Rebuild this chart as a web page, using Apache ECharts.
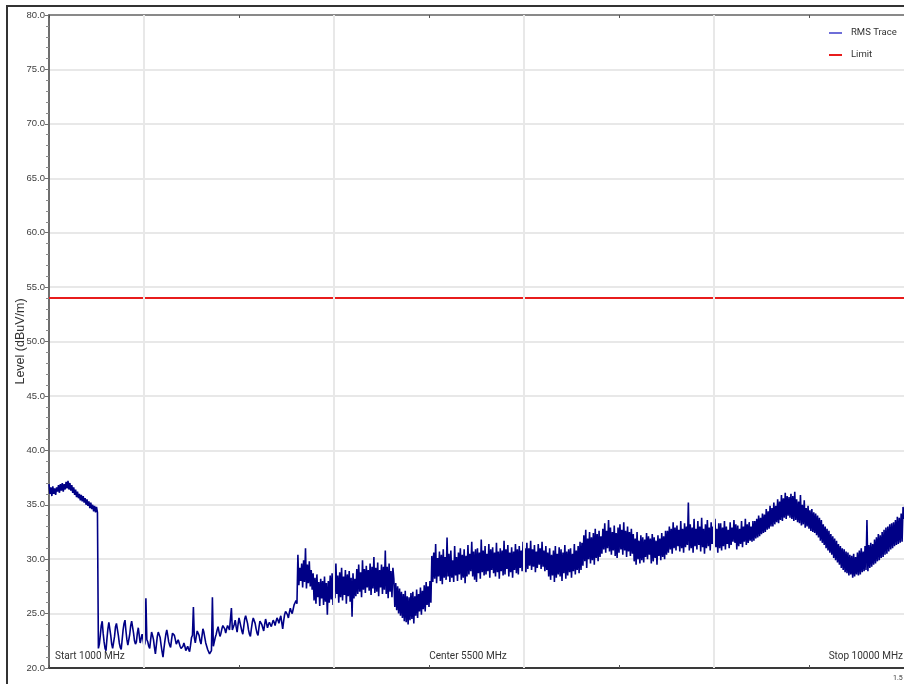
<!DOCTYPE html>
<html>
<head>
<meta charset="utf-8">
<style>
  html, body { margin: 0; padding: 0; background: #fff; }
  #chart { width: 904px; height: 684px; }
</style>
<script src="https://cdn.jsdelivr.net/npm/echarts@6/dist/echarts.min.js"></script>
</head>
<body>
<div id="chart"></div>
<script>
// Sweep settings (MHz)
const startMHz = 1000;
const stopMHz = 10000;
const stepMHz = 10;

// RMS trace level, one reading per sweep step (dBuV/m)
const rmsLevel = [
  // 1000 - 1510 MHz
  36.9, 36.0, 36.6, 35.8, 36.7, 36.0, 36.5, 35.9, 36.6, 36.2,
  36.8, 36.1, 36.9, 36.3, 37.0, 36.2, 36.9, 36.4, 37.1, 36.5,
  37.2, 36.4, 37.0, 36.3, 36.8, 36.1, 36.6, 35.9, 36.4, 35.7,
  36.2, 35.6, 36.0, 35.4, 35.9, 35.3, 35.8, 35.2, 35.6, 35.0,
  35.5, 34.9, 35.3, 34.7, 35.2, 34.6, 35.0, 34.4, 34.9, 34.3,
  34.8, 34.3,
  // 1520 - 1950 MHz
  21.8, 22.2, 23.0, 23.9, 24.3, 23.2, 22.4, 21.8, 21.6, 22.7,
  23.6, 24.2, 24.1, 23.0, 22.2, 21.8, 21.9, 22.9, 23.8, 24.1,
  24.0, 23.0, 22.3, 21.9, 21.7, 22.6, 23.5, 24.1, 24.4, 23.4,
  22.6, 22.1, 22.0, 23.1, 23.9, 24.3, 24.2, 23.2, 22.5, 22.2,
  22.4, 23.2, 23.7, 23.0,
  // 1960 - 2450 MHz
  22.3, 22.7, 23.1, 22.6, 22.0, 22.3, 26.4, 22.6, 22.4, 22.0,
  21.8, 22.6, 23.3, 23.0, 22.6, 21.9, 21.3, 22.1, 22.9, 23.3,
  23.4, 22.8, 22.1, 21.5, 21.0, 21.8, 22.5, 23.1, 23.5, 23.0,
  22.4, 22.1, 21.9, 22.6, 23.2, 23.2, 23.0, 22.6, 22.2, 22.4,
  22.6, 22.3, 22.0, 21.8, 21.7, 22.0, 22.3, 22.0, 21.6, 21.8,
  // 2460 - 2930 MHz
  22.0, 21.7, 21.5, 22.1, 22.8, 23.0, 25.6, 22.8, 22.3, 22.9,
  23.4, 23.3, 23.0, 22.5, 22.2, 22.9, 23.6, 23.3, 22.8, 22.3,
  22.0, 21.7, 21.5, 21.3, 21.2, 21.6, 26.5, 22.0, 22.4, 22.8,
  23.1, 23.5, 23.8, 23.3, 22.9, 23.2, 23.6, 23.9, 24.0, 23.6,
  23.2, 23.6, 23.9, 23.7, 23.5, 23.4, 25.5, 23.5,
  // 2940 - 3610 MHz
  23.6, 24.0, 24.4, 23.8, 23.3, 24.0, 24.6, 24.2, 23.8, 23.4,
  23.1, 23.8, 24.5, 24.8, 24.9, 24.1, 23.5, 23.1, 22.9, 23.6,
  24.2, 24.6, 24.7, 24.1, 23.6, 23.2, 23.0, 23.7, 24.3, 24.2,
  24.0, 23.7, 23.4, 24.0, 24.5, 24.1, 23.7, 24.0, 24.2, 24.0,
  23.8, 24.1, 24.4, 24.2, 23.9, 24.3, 24.6, 24.4, 24.1, 24.5,
  24.8, 24.2, 23.6, 24.3, 24.9, 25.2, 25.3, 24.9, 24.6, 25.1,
  25.5, 25.2, 25.0, 25.4, 25.8, 26.0, 26.2, 25.9,
  // 3620 - 3770 MHz
  30.4, 27.6, 29.2, 28.0, 29.6, 27.4, 29.9, 27.9, 31.0, 27.3,
  29.5, 27.8, 29.8, 27.5, 29.0, 27.2,
  // 3780 - 3960 MHz
  28.7, 26.2, 28.3, 25.9, 28.6, 26.5, 27.9, 25.7, 28.2, 26.4,
  28.0, 25.8, 28.4, 26.1, 27.8, 24.9, 28.0, 26.0, 28.5,
  // 3970 - 4240 MHz
  26.3, 28.7, 25.8, 28.9, 26.4, 29.6, 26.8, 28.5, 26.0, 28.8,
  26.5, 29.2, 26.2, 28.4, 26.7, 29.0, 25.9, 28.6, 26.6, 28.9,
  26.1, 28.3, 24.7, 28.7, 26.4, 28.2, 26.6, 29.1,
  // 4250 - 4620 MHz
  26.8, 29.5, 27.0, 28.8, 26.5, 29.9, 27.2, 29.1, 26.9, 29.4,
  27.4, 29.0, 27.1, 29.6, 26.7, 29.3, 27.3, 30.2, 26.9, 29.2,
  27.0, 29.7, 26.6, 29.0, 27.4, 29.5, 26.8, 29.3, 27.2, 30.8,
  26.8, 29.3, 26.4, 29.6, 27.0, 28.9, 26.5, 29.2,
  // 4630 - 5020 MHz
  28.2, 25.6, 27.8, 25.3, 27.5, 25.0, 27.3, 24.8, 27.0, 24.6,
  26.8, 24.3, 27.1, 24.2, 26.6, 24.0, 26.5, 24.4, 26.9, 24.5,
  27.0, 24.1, 26.6, 24.8, 27.2, 24.6, 26.8, 25.2, 27.4, 24.9,
  27.1, 25.4, 27.6, 25.2, 27.9, 25.8, 27.5, 25.6, 28.0, 26.0,
  // 5030 - 5400 MHz
  30.3, 27.9, 30.6, 28.2, 31.4, 27.8, 30.1, 28.4, 30.7, 28.0,
  30.4, 27.7, 30.9, 28.3, 30.2, 28.1, 32.0, 28.4, 30.5, 27.9,
  30.8, 28.3, 29.9, 27.9, 31.2, 28.5, 30.2, 28.0, 30.6, 28.6,
  31.0, 28.1, 30.4, 28.3, 30.9, 27.8, 30.3, 28.4,
  // 5410 - 6020 MHz
  31.3, 28.6, 30.5, 28.9, 31.6, 28.4, 30.7, 28.1, 30.9, 27.9,
  31.0, 28.7, 30.6, 28.2, 31.8, 28.8, 30.8, 28.5, 31.2, 28.6,
  30.5, 28.9, 31.4, 28.3, 30.9, 29.0, 31.1, 28.7, 30.6, 28.4,
  31.5, 28.8, 30.7, 28.2, 31.0, 28.9, 30.8, 28.5, 31.7, 28.6,
  30.9, 29.1, 31.3, 28.4, 30.6, 28.8, 31.1, 28.3, 30.7, 29.0,
  31.4, 28.7, 30.9, 28.6, 31.2, 29.2, 30.8, 28.9, 31.6, 29.0,
  31.0, 28.8,
  // 6030 - 6240 MHz
  31.5, 29.1, 31.0, 29.4, 31.7, 29.0, 30.9, 29.3, 31.3, 28.8,
  30.7, 29.2, 31.4, 29.5, 31.0, 29.1, 31.6, 29.3, 30.8, 28.9,
  31.2, 29.0,
  // 6250 - 6610 MHz
  30.6, 28.4, 31.0, 28.1, 30.4, 28.5, 30.8, 27.9, 31.2, 28.3,
  30.5, 28.6, 31.1, 28.4, 30.9, 28.0, 30.6, 28.7, 31.3, 28.2,
  30.7, 28.5, 30.9, 28.8, 31.0, 28.3, 30.5, 28.9, 31.4, 28.6,
  30.8, 29.0, 31.2, 28.7, 31.6, 29.0, 31.5,
  // 6620 - 6810 MHz
  29.4, 32.2, 29.8, 32.7, 29.2, 31.9, 30.0, 32.5, 29.6, 32.0,
  29.9, 32.4, 29.5, 32.8, 30.1, 32.3, 29.8, 32.6, 30.2, 32.1,
  // 6820 - 7150 MHz
  30.5, 32.8, 30.9, 33.3, 30.6, 32.6, 31.0, 33.6, 30.7, 32.9,
  30.4, 32.5, 30.8, 33.1, 30.3, 32.4, 30.1, 32.9, 30.6, 33.2,
  30.9, 32.7, 30.4, 33.4, 30.8, 32.6, 30.2, 33.0, 30.7, 32.5,
  30.3, 32.8, 30.5, 32.3,
  // 7160 - 7500 MHz
  29.8, 31.9, 29.5, 32.5, 30.0, 31.7, 29.6, 32.2, 29.9, 32.0,
  29.7, 31.8, 30.2, 32.4, 30.0, 32.1, 30.4, 31.9, 29.6, 32.3,
  29.8, 32.0, 30.1, 31.7, 29.5, 32.2, 30.3, 31.9, 29.9, 32.4,
  30.2, 32.1, 30.0, 32.6, 30.4,
  // 7510 - 8060 MHz
  32.6, 30.6, 33.0, 30.9, 32.8, 30.5, 33.4, 31.0, 32.9, 30.8,
  33.1, 31.2, 32.7, 30.7, 33.5, 31.0, 32.8, 30.6, 33.3, 31.1,
  33.0, 31.3, 35.2, 30.8, 33.2, 31.0, 32.9, 30.6, 33.7, 31.2,
  32.8, 30.9, 33.5, 31.3, 33.0, 30.7, 33.8, 31.1, 32.8, 30.5,
  33.2, 31.0, 33.6, 31.2, 32.9, 30.8, 33.4, 31.4, 33.0, 30.9,
  33.7, 31.1, 32.8, 30.6, 33.3, 31.0,
  // 8070 - 8410 MHz
  33.3, 30.8, 32.9, 31.2, 33.5, 30.9, 33.0, 31.4, 32.7, 31.0,
  33.4, 31.3, 32.9, 31.6, 33.6, 31.5, 33.2, 30.9, 33.1, 31.2,
  32.8, 31.4, 33.5, 31.1, 33.0, 31.6, 33.7, 31.3, 33.2, 31.5,
  33.4, 31.7, 33.0, 31.6, 33.5,
  // 8420 - 8810 MHz
  31.7, 33.5, 31.9, 33.7, 32.0, 34.0, 32.1, 33.8, 32.3, 34.2,
  32.4, 34.1, 32.5, 34.6, 32.7, 34.4, 32.8, 34.9, 33.0, 34.7,
  33.0, 35.2, 33.2, 34.9, 33.4, 35.5, 33.3, 35.3, 33.6, 35.9,
  33.5, 35.6, 33.8, 36.1, 33.7, 35.8, 34.0, 35.7, 33.8, 36.0,
  // 8820 - 9060 MHz
  33.7, 35.8, 33.5, 36.2, 33.6, 35.5, 33.4, 35.3, 33.3, 35.9,
  33.1, 35.0, 33.2, 35.4, 32.9, 34.7, 33.0, 34.9, 32.8, 34.5,
  32.6, 34.6, 32.5, 34.3, 32.4,
  // 9070 - 9520 MHz
  34.2, 32.2, 34.0, 32.0, 33.8, 31.7, 33.6, 31.5, 33.2, 31.3,
  33.0, 31.0, 32.8, 30.8, 32.6, 30.6, 32.3, 30.4, 32.1, 30.1,
  31.9, 29.9, 31.7, 29.7, 31.4, 29.5, 31.2, 29.2, 31.0, 29.0,
  30.9, 28.8, 30.7, 28.7, 30.6, 28.5, 30.4, 28.6, 30.3, 28.3,
  30.5, 28.4, 30.2, 28.6, 30.6, 28.5,
  // 9530 - 10000 MHz
  30.8, 28.6, 31.0, 28.8, 30.7, 28.9, 31.2, 29.0, 33.6, 28.9,
  31.3, 29.2, 31.5, 29.3, 31.4, 29.5, 31.8, 29.6, 32.0, 29.8,
  32.3, 29.9, 32.2, 30.1, 32.5, 30.2, 32.7, 30.4, 32.9, 30.5,
  33.0, 30.7, 33.2, 30.9, 33.3, 31.0, 33.4, 31.2, 33.6, 31.3,
  33.9, 31.4, 33.8, 31.5, 34.2, 31.6, 34.8, 33.7
];

// Limit line level (dBuV/m)
const limitLevel = 54;

// Level axis range and step
const levelMin = 20;
const levelMax = 80;
const levelStep = 5;

// Frequencies that carry a vertical grid line
const gridFreqs = [2000, 4000, 6000, 8000];

const traceData = rmsLevel.map((v, i) => [startMHz + i * stepMHz, v]);
const limitData = [[startMHz, limitLevel], [stopMHz, limitLevel]];
const centerMHz = (startMHz + stopMHz) / 2;

const LABEL_FONT = 'Roboto, "Liberation Sans", sans-serif';
const REGULAR = '"Liberation Sans", Arial, sans-serif';

const chart = echarts.init(document.getElementById('chart'), null, { renderer: 'canvas' });

const freqAxisBase = {
  type: 'value',
  min: startMHz,
  max: stopMHz,
  interval: 1000,
  axisLabel: { show: false },
  splitLine: { show: false },
  axisTick: { show: true, inside: true, length: 3, lineStyle: { color: '#555', width: 1 } }
};

chart.setOption({
  animation: false,
  backgroundColor: '#ffffff',
  grid: { left: 49, top: 15, right: 0, bottom: 16, containLabel: false, outerBoundsMode: 'none' },
  legend: {
    orient: 'vertical',
    left: 829,
    top: 26,
    padding: 0,
    itemWidth: 13,
    itemHeight: 2,
    itemGap: 8,
    icon: 'rect',
    textStyle: { fontFamily: LABEL_FONT, fontSize: 9.5, color: '#333', lineHeight: 14, padding: [0, 0, 0, 4] },
    data: [
      { name: 'RMS Trace', itemStyle: { color: '#6e6ed8' } },
      { name: 'Limit', itemStyle: { color: '#e81c1c' } }
    ]
  },
  xAxis: [
    Object.assign({}, freqAxisBase, {
      position: 'bottom',
      axisLine: { show: true, lineStyle: { color: '#3a3a3a', width: 2 } }
    }),
    Object.assign({}, freqAxisBase, {
      position: 'top',
      axisLine: { show: true, lineStyle: { color: '#6a6a6a', width: 1.5 } }
    })
  ],
  yAxis: {
    type: 'value',
    min: levelMin,
    max: levelMax,
    interval: levelStep,
    name: 'Level (dBuV/m)',
    nameLocation: 'middle',
    nameGap: 22,
    nameMoveOverlap: false,
    nameTextStyle: { fontFamily: REGULAR, fontSize: 12.5, color: '#333' },
    axisLine: { show: true, lineStyle: { color: '#6e6e6e', width: 2 } },
    axisTick: { show: true, length: 4, lineStyle: { color: '#6e6e6e' } },
    minorTick: { show: true, splitNumber: 5, length: 3, lineStyle: { color: '#8a8a8a' } },
    axisLabel: {
      margin: 4,
      fontFamily: REGULAR,
      fontSize: 9.5,
      color: '#404040',
      formatter: v => v.toFixed(1)
    },
    splitLine: { show: true, lineStyle: { color: '#e0e0e0', width: 1.5 } }
  },
  series: [
    {
      name: 'grid',
      type: 'line',
      data: [],
      silent: true,
      z: 1,
      markLine: {
        silent: true,
        symbol: 'none',
        label: { show: false },
        lineStyle: { color: '#e8e8e8', width: 2, type: 'solid' },
        data: gridFreqs.map(f => ({ xAxis: f }))
      }
    },
    {
      name: 'RMS Trace',
      type: 'line',
      data: traceData,
      showSymbol: false,
      symbol: 'none',
      z: 3,
      lineStyle: { color: '#000086', width: 1.6 },
      itemStyle: { color: '#000086' }
    },
    {
      name: 'Limit',
      type: 'line',
      data: limitData,
      showSymbol: false,
      symbol: 'none',
      z: 4,
      lineStyle: { color: '#e81c1c', width: 2 },
      itemStyle: { color: '#e81c1c' }
    }
  ],
  graphic: [
    {
      type: 'rect',
      silent: true,
      shape: { x: 7, y: 6, width: 1000, height: 1000 },
      style: { fill: 'none', stroke: '#333', lineWidth: 2 }
    },
    {
      type: 'text',
      silent: true,
      x: 55, y: 656,
      style: { text: 'Start ' + startMHz + ' MHz', font: '10px ' + LABEL_FONT, fill: '#333', verticalAlign: 'middle', align: 'left' }
    },
    {
      type: 'text',
      silent: true,
      x: 468, y: 656,
      style: { text: 'Center ' + centerMHz + ' MHz', font: '10px ' + LABEL_FONT, fill: '#333', verticalAlign: 'middle', align: 'center' }
    },
    {
      type: 'text',
      silent: true,
      x: 903, y: 656,
      style: { text: 'Stop ' + stopMHz + ' MHz', font: '10px ' + LABEL_FONT, fill: '#333', verticalAlign: 'middle', align: 'right' }
    },
    {
      type: 'text',
      silent: true,
      x: 893, y: 678,
      style: { text: '1.5', font: '7px ' + LABEL_FONT, fill: '#333', verticalAlign: 'middle', align: 'left' }
    }
  ]
});
</script>
</body>
</html>
